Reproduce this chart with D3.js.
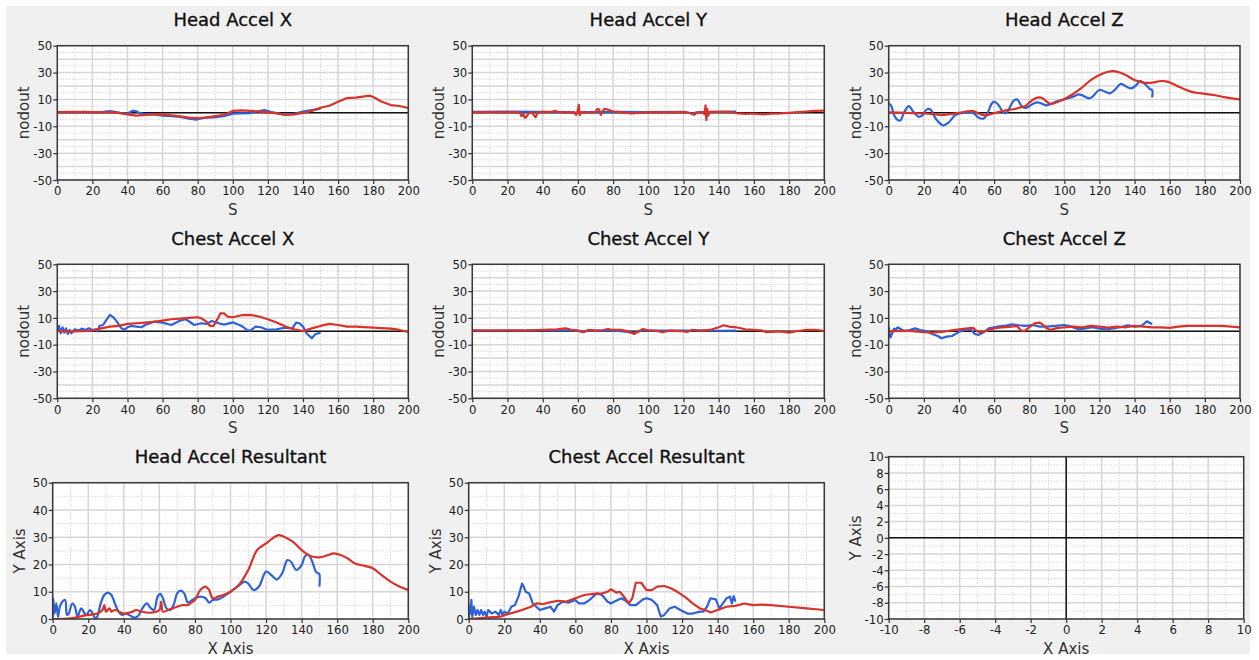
<!DOCTYPE html>
<html>
<head>
<meta charset="utf-8">
<script src="https://cdn.jsdelivr.net/npm/d3@7"></script>
<style>
  html, body { margin: 0; padding: 0; background: #ffffff; }
  svg { display: block; }
  .tick text { font-family: "DejaVu Sans Condensed", "DejaVu Sans", sans-serif; font-stretch: condensed; font-size: 13px; fill: #222; }
  .title { font-family: "DejaVu Sans", sans-serif; font-size: 18px; fill: #111; stroke: #111; stroke-width: 0.35px; }
  .axlabel { font-family: "DejaVu Sans", sans-serif; font-size: 15px; fill: #333; }
</style>
</head>
<body>
<svg id="chart" width="1259" height="660"></svg>
<script>
// ---- Chart data ----------------------------------------------------------
const titles = ["Head Accel X", "Head Accel Y", "Head Accel Z",
                "Chest Accel X", "Chest Accel Y", "Chest Accel Z",
                "Head Accel Resultant", "Chest Accel Resultant", ""];

const timeTicks = [0, 20, 40, 60, 80, 100, 120, 140, 160, 180, 200];
const signedTicks = [50, 30, 10, -10, -30, -50];
const resultantTicks = [0, 10, 20, 30, 40, 50];
const unitTicks = [-10, -8, -6, -4, -2, 0, 2, 4, 6, 8, 10];

// [time, value] pairs; blue = test, red = simulation
const headXBlue = [[0,0.5],[5,0.6],[10,0.3],[15,0.8],[20,0.4],[25,0.6],[30,1.4],[33,0.8],[36,-0.2],[40,-0.4],[43,1.6],[45,1.2],[47,-0.2],[50,-1],[55,-1.2],[60,-2],[65,-2.5],[70,-3],[75,-4.4],[79,-5],[82,-4.2],[85,-3.6],[90,-3.3],[95,-2.4],[100,-0.6],[105,-0.4],[110,-0.2],[115,1.4],[118,2],[122,0.6],[125,-0.2],[130,-1.4],[135,-0.8],[140,0.9],[145,2],[150,3.1]];
const headXRed = [[0,0.6],[10,0.7],[20,0.5],[30,0.4],[35,0],[40,-1.1],[45,-2.1],[50,-1.6],[55,-1.2],[60,-1.1],[65,-1.8],[70,-2.6],[75,-3.6],[80,-4],[85,-3.4],[90,-2.4],[95,-1.4],[100,1.4],[105,1.9],[110,1.4],[115,0.9],[120,0.4],[125,-0.4],[130,-1.6],[135,-1.2],[140,0],[145,1.4],[150,3.8],[155,5.3],[160,8.3],[165,11],[170,11.3],[175,12.3],[178,12.8],[180,11.8],[185,8.3],[190,5.8],[195,5.1],[200,3.6]];

const headYBlue = [[0,0.8],[20,0.9],[40,0.7],[55,0.5],[58,-0.3],[62,0.6],[80,0.7],[100,0.6],[120,0.8],[125,-0.5],[128,0.5],[140,0.8],[150,0.9]];
const headYRed = [[0,0.4],[10,0.5],[20,0.6],[27,0.2],[28,-2.5],[29,-1],[30,-3.8],[31,-2.5],[32,-0.5],[34,0.5],[35,-2],[36,-3.2],[37,0.2],[40,0.8],[45,0.6],[47,1.5],[49,0.5],[55,0.3],[58,0.5],[59,-1.5],[60,2],[60.5,6],[61,-1.8],[62,0.5],[65,0.4],[70,0.6],[71,3],[72,2.5],[73,-1.5],[74,1],[75,3],[77,2.5],[80,1],[85,0.5],[90,-0.5],[95,0],[100,0.5],[110,0.3],[120,0.5],[124,-0.2],[126,-1.5],[128,0.3],[131,0.5],[132,-1],[132.5,5.5],[133,-5.5],[133.5,3],[134,-2],[135,0.8],[140,0.8],[145,0.8],[148,0.5],[150,-0.3],[155,-0.8],[160,-0.5],[165,-1.2],[170,-0.6],[175,-0.4],[180,0],[185,0.5],[190,1],[195,1.4],[200,1.6]];

const headZBlue = [[0,7],[1.5,5],[3,-1.6],[5,-5.3],[6.5,-5.8],[9,0.9],[11.5,5],[14,0.9],[17,-2.9],[19,-2],[22,2.9],[24,2.2],[27,-4.8],[31,-9.3],[34,-7.3],[38,-1.6],[42,0],[48,0],[51,-3.4],[54,-4.3],[56,-1.1],[58.5,6.6],[60,8.3],[62,6.6],[65,0.9],[66.5,-0.4],[68,1.6],[71,8.8],[73,10],[76,4.6],[78,3.6],[82,6.6],[85,7.8],[90,5.6],[95,8.3],[100,10],[106,12.5],[108,13.8],[110,13.2],[114,10.8],[116,12],[120,17],[124,15.3],[126,14.5],[129,17.5],[132,21.5],[136,19],[138,18.2],[141,20.7],[143,23.7],[145,22.5],[147,20],[149,17.5],[150,17],[150,11.5]];
const headZRed = [[0,0.4],[10,0],[20,-0.5],[25,-0.9],[30,-1.6],[35,-1],[40,0],[45,1.1],[48,1.4],[52,-0.9],[55,-1.9],[58,-0.9],[62,0.4],[65,1.4],[68,2.1],[72,2.9],[75,4.1],[78,5.1],[80,7.6],[83,10.5],[86,11.5],[88,10.5],[90,8.3],[92,6.6],[95,7.6],[100,10.3],[105,14],[110,18.7],[115,24.4],[120,28.2],[125,30.6],[128,31.1],[132,29.9],[136,27.4],[140,24.4],[145,22.5],[150,22.5],[155,23.7],[158,23.4],[162,21.5],[166,19],[172,15.8],[178,14.5],[185,13.3],[192,11.5],[200,10]];

const chestXBlue = [[0,0.5],[1,4],[2,-1.5],[3,3],[4,-1],[5,2.2],[6,-2],[7,1],[8,-1.5],[10,1.5],[12,0.5],[14,2],[16,1],[18,2.2],[20,1],[22,1.5],[23,0],[24,4],[26,4.7],[28,8.5],[30,12.2],[32,10.4],[34,7.2],[36,3],[38,1],[40,3],[42,4],[45,3.5],[48,3],[50,4.7],[55,7.2],[60,6.5],[65,4.7],[70,8],[73,9],[75,7.5],[78,4.7],[82,6],[85,5.5],[88,7.7],[92,6],[95,5],[100,6.7],[105,4],[108,1],[110,0.5],[113,3.5],[116,3],[120,1],[125,1.5],[130,2.7],[134,2.2],[136,6.5],[138,6],[140,3.5],[142,-1.5],[145,-5.2],[147,-2.2],[150,-1]];
const chestXRed = [[0,0.2],[10,0],[20,0.5],[25,2.2],[30,3.5],[35,4],[40,5.5],[45,6],[50,6.5],[55,7],[60,8],[65,9],[70,9.5],[75,10],[80,10.5],[82,9.7],[85,7.2],[87,4],[89,4],[91,8.5],[93,13.4],[95,13.4],[97,11],[100,10.5],[105,12],[110,12.2],[115,11],[120,9],[125,6.5],[130,3.5],[135,1.5],[140,0.2],[145,2.2],[150,4],[155,5.5],[160,4.7],[165,3.5],[170,3.5],[180,2.7],[190,2],[195,1],[200,-0.5]];

const chestYBlue = [[0,0.6],[20,0.6],[40,0.7],[60,0.5],[63,-0.3],[66,0.5],[80,0.6],[88,-0.5],[92,-1.2],[96,0.5],[110,0.6],[130,0.6],[140,0.4],[150,0.5]];
const chestYRed = [[0,0.7],[10,0.6],[20,0.7],[30,0.5],[40,1],[48,1.5],[53,2.2],[57,1],[60,0.5],[63,-0.7],[66,1],[70,0.5],[74,0.8],[77,1.7],[80,1],[85,1],[88,0.2],[92,-2],[95,0.2],[97,1.7],[100,0.8],[105,0.2],[108,-0.7],[112,0.5],[118,0.2],[122,-0.5],[125,1],[130,0.5],[135,1],[140,3],[143,4.5],[146,3.5],[150,3],[155,1.5],[160,1],[165,0.5],[167,-0.7],[175,0],[180,-1],[185,0.2],[190,1],[195,1],[200,0.2]];

const chestZBlue = [[0,3.5],[0.5,-2.7],[1,-4.5],[2,-1.5],[3,2],[4,1],[5,3],[7,1.5],[9,0],[12,1],[15,2.2],[18,1],[20,0.5],[22,-0.2],[25,-2.2],[28,-3.5],[30,-5.2],[33,-4],[36,-3.5],[40,-0.5],[44,1.5],[47,1],[49,-2],[51,-2.7],[53,-1.5],[57,2.2],[62,3.5],[67,4.2],[70,5.2],[74,4.5],[78,4],[82,4.7],[86,3.5],[90,3.5],[95,4],[100,4.7],[104,3.5],[108,1.5],[112,2.2],[116,3],[120,2],[124,1.5],[128,2.2],[132,3],[136,4.5],[140,3.5],[144,4],[147,7.5],[149,6],[150,5.5]];
const chestZRed = [[0,0],[10,0.5],[20,-0.7],[25,-1],[30,-0.5],[35,0.5],[40,1.5],[45,2.2],[48,2.5],[50,0.5],[52,-1],[55,0],[60,2.2],[65,3],[70,3.5],[73,4],[75,1],[77,0],[80,3],[83,6],[86,6.5],[88,4.7],[90,2.2],[92,1],[95,2.2],[100,3],[105,3.5],[110,3],[115,4],[120,3.5],[125,2.7],[130,3.5],[135,3],[140,4],[145,3.5],[150,3],[155,3],[160,2.5],[165,3.5],[170,4],[180,4],[190,4],[200,3]];

const headResBlue = [[0,0],[0.3,7.6],[1,2],[2,5.7],[3,0.8],[4,4.5],[5.5,6.4],[7,7],[8,1.5],[9,2],[11,5.7],[12.5,4.5],[14,0.9],[16,3.9],[18,2],[19,1.5],[21,3.3],[22.5,2],[24,0.2],[25,0.8],[27,5.7],[29,8.8],[31,9.7],[33,8.8],[35,5.7],[37,2.7],[39,1.5],[41,2],[44,1.1],[46,0.5],[48,1.1],[51,4.5],[53,5.7],[55,4.1],[57,3.3],[59,8.2],[60.5,9.2],[62,7.6],[64,3.9],[66,3.3],[68,5.1],[70,9.4],[72,10.4],[74,9.4],[76,6.1],[78,6.7],[80,7.6],[83,8.2],[86,7.6],[88,6],[90,7],[93,7.2],[96,8.2],[100,10],[104,11.9],[108,13.7],[110,13],[113,10.6],[116,11.9],[120,17.4],[123,16.1],[126,14.5],[129,16.7],[132,21.6],[134,21],[137,18],[140,19.8],[142,23.1],[144,23.5],[146,21],[148,17.4],[149.5,16.7],[150,16.5],[150,11.9]];
const headResRed = [[0,0],[10,0.2],[15,0.9],[20,1.5],[25,2],[28,3.3],[29,5.1],[30,2.7],[32,3.9],[33,2.7],[35,3.3],[40,2],[45,2.7],[47,3.3],[50,2.7],[55,2.3],[60,3.3],[61,6.4],[62,2.7],[65,3.3],[70,4.5],[73,5.1],[76,5.1],[78,6],[80,7],[83,10.6],[86,11.9],[88,10.6],[90,7.6],[93,8.2],[96,8.8],[100,10],[105,12.8],[110,18],[115,25.3],[120,27.7],[125,30.2],[127,30.8],[130,30.2],[135,28.4],[140,25.3],[145,23.1],[150,22.6],[155,23.5],[158,24.1],[162,23.5],[166,22.2],[170,20.4],[176,19.4],[180,18.6],[185,16.1],[190,13.7],[195,11.9],[200,10.6]];

const chestResBlue = [[0,0],[0.5,5],[1,2],[1.5,7],[2,0.8],[3,4.5],[4,1.5],[5,3.3],[6,1.5],[7,3.3],[8,1.5],[9,2.7],[10,0.8],[11,3.3],[13,2],[15,2.7],[17,1.5],[18,3.3],[19,1.5],[20,2.7],[22,2],[24,4.5],[26,5.1],[28,8.2],[30,13],[31,11.8],[32,10],[34,9.4],[36,5.7],[38,4.5],[40,3.3],[43,3.9],[46,4.5],[48,2.7],[50,5.1],[53,6.4],[56,6],[60,7],[62,5.7],[65,5.7],[68,7],[72,9.4],[75,8.8],[78,6.4],[80,5.7],[82,6.4],[86,7.6],[88,6.8],[91,5.1],[94,5.1],[98,7.2],[100,7.6],[103,7],[106,5.1],[108,0.9],[110,1.5],[113,3.9],[116,4.5],[119,3.3],[123,2],[126,2],[130,2.7],[132,2.7],[134,4.5],[136,7.6],[139,7.2],[141,3.9],[143,5.7],[145,7.6],[147,8.2],[148,5.7],[149,8.4],[150,6.4]];
const chestResRed = [[0,0],[10,0.5],[18,0.9],[22,1.8],[27,2.7],[30,3.3],[35,4.5],[38,5.7],[42,5.5],[45,6],[50,6.7],[55,6.4],[60,7.6],[65,8.8],[70,9.2],[75,9.4],[78,10],[80,10.9],[83,9.7],[85,10],[88,7.6],[90,5.7],[92,7.6],[94,13.3],[97,13.3],[100,10.6],[103,10.6],[106,11.9],[110,12.1],[114,11.2],[118,9.7],[122,7.9],[126,5.7],[130,3.9],[133,3.3],[136,2.4],[140,3.3],[145,4.5],[150,4.8],[155,5.7],[160,5.1],[165,5.3],[170,5.1],[180,4.5],[190,3.9],[200,3.3]];

// ---- Drawing -------------------------------------------------------------
const BLUE = "#2f62d8";
const RED = "#d9322a";

const svg = d3.select("#chart");
svg.append("rect").attr("x", 6).attr("y", 6).attr("width", 1244).attr("height", 648).attr("fill", "#f0f0f0");

const signed = { domain: [-50, 50], labels: signedTicks, major: d3.range(-50, 51, 10), minor: d3.range(-45, 50, 10), zero: true };
const resultant = { domain: [0, 50], labels: resultantTicks, major: d3.range(0, 51, 10), minor: d3.range(5, 50, 10), zero: false };
const unit = { domain: [-10, 10], labels: unitTicks, major: unitTicks, minor: d3.range(-9, 10, 2), zero: true };
const timeAxis = { domain: [0, 200], labels: timeTicks, major: timeTicks, minor: d3.range(10, 200, 20) };
const unitX = { domain: [-10, 10], labels: unitTicks, major: unitTicks, minor: d3.range(-9, 10, 2) };

const panels = [
  { box: [57.3, 45.7, 408.3, 180], y: signed, x: timeAxis, yLabel: "nodout", xLabel: "S", series: [headXBlue, headXRed], smooth: false },
  { box: [472.3, 45.7, 824.3, 180], y: signed, x: timeAxis, yLabel: "nodout", xLabel: "S", series: [headYBlue, headYRed], smooth: false },
  { box: [888.7, 45.7, 1240, 180], y: signed, x: timeAxis, yLabel: "nodout", xLabel: "S", series: [headZBlue, headZRed], smooth: true },
  { box: [57.3, 264.3, 408.3, 398.3], y: signed, x: timeAxis, yLabel: "nodout", xLabel: "S", series: [chestXBlue, chestXRed], smooth: false },
  { box: [472.3, 264.3, 824.3, 398.3], y: signed, x: timeAxis, yLabel: "nodout", xLabel: "S", series: [chestYBlue, chestYRed], smooth: false },
  { box: [888.7, 264.3, 1240, 398.3], y: signed, x: timeAxis, yLabel: "nodout", xLabel: "S", series: [chestZBlue, chestZRed], smooth: false },
  { box: [52.7, 482.7, 408.3, 619], y: resultant, x: timeAxis, yLabel: "Y Axis", xLabel: "X Axis", series: [headResBlue, headResRed], smooth: true },
  { box: [468.7, 482.7, 824.3, 619], y: resultant, x: timeAxis, yLabel: "Y Axis", xLabel: "X Axis", series: [chestResBlue, chestResRed], smooth: false },
  { box: [888.7, 456.7, 1243.7, 619], y: unit, x: unitX, yLabel: "Y Axis", xLabel: "X Axis", series: [], smooth: false, crossZero: true }
];

// plain hyphen for negatives
const fmt = d => String(d);

panels.forEach((p, i) => {
  const [l, t, r, b] = p.box;
  const x = d3.scaleLinear().domain(p.x.domain).range([l, r]);
  const y = d3.scaleLinear().domain(p.y.domain).range([b, t]);
  const g = svg.append("g");

  g.append("rect").attr("x", l).attr("y", t).attr("width", r - l).attr("height", b - t).attr("fill", "#ffffff");

  // grid: solid majors, dotted minors
  const grid = g.append("g");
  grid.selectAll(".vmin").data(p.x.minor).join("line")
    .attr("x1", d => x(d)).attr("x2", d => x(d)).attr("y1", t).attr("y2", b)
    .attr("stroke", "#c4c4c4").attr("stroke-width", 1).attr("stroke-dasharray", "1,2");
  grid.selectAll(".hmin").data(p.y.minor).join("line")
    .attr("x1", l).attr("x2", r).attr("y1", d => y(d)).attr("y2", d => y(d))
    .attr("stroke", "#c4c4c4").attr("stroke-width", 1).attr("stroke-dasharray", "1,2");
  grid.selectAll(".vmaj").data(p.x.major).join("line")
    .attr("x1", d => x(d)).attr("x2", d => x(d)).attr("y1", t).attr("y2", b)
    .attr("stroke", "#d6d6d6").attr("stroke-width", 1.5);
  grid.selectAll(".hmaj").data(p.y.major).join("line")
    .attr("x1", l).attr("x2", r).attr("y1", d => y(d)).attr("y2", d => y(d))
    .attr("stroke", "#d6d6d6").attr("stroke-width", 1.5);

  if (p.y.zero) {
    g.append("line").attr("x1", l).attr("x2", r).attr("y1", y(0)).attr("y2", y(0))
      .attr("stroke", "#111").attr("stroke-width", 1.5);
  }
  if (p.crossZero) {
    g.append("line").attr("x1", x(0)).attr("x2", x(0)).attr("y1", t).attr("y2", b)
      .attr("stroke", "#111").attr("stroke-width", 1.5);
  }

  // traces
  const line = d3.line().x(d => x(d[0])).y(d => y(d[1]))
    .curve(p.smooth ? d3.curveCatmullRom.alpha(0.5) : d3.curveLinear);
  const clipId = "clip" + i;
  g.append("clipPath").attr("id", clipId).append("rect")
    .attr("x", l).attr("y", t).attr("width", r - l).attr("height", b - t);
  p.series.forEach((s, k) => {
    g.append("path").datum(s).attr("d", line)
      .attr("clip-path", `url(#${clipId})`)
      .attr("fill", "none").attr("stroke", k === 0 ? BLUE : RED)
      .attr("stroke-width", 2.2).attr("stroke-linejoin", "round");
  });

  // frame
  g.append("rect").attr("x", l).attr("y", t).attr("width", r - l).attr("height", b - t)
    .attr("fill", "none").attr("stroke", "#3a3a3a").attr("stroke-width", 1.5);

  // axes
  const ax = g.append("g").attr("transform", `translate(0,${b})`)
    .call(d3.axisBottom(x).tickValues(p.x.labels).tickSize(4).tickPadding(2).tickFormat(fmt));
  const ay = g.append("g").attr("transform", `translate(${l},0)`)
    .call(d3.axisLeft(y).tickValues(p.y.labels).tickSize(4).tickPadding(1).tickFormat(fmt));
  [ax, ay].forEach(a => {
    a.select(".domain").remove();
    a.selectAll(".tick line").attr("stroke", "#333").attr("stroke-width", 1.2);
  });

  // titles and axis names
  const cx = (l + r) / 2;
  if (titles[i]) {
    g.append("text").attr("class", "title").attr("x", cx).attr("y", t - 19.5)
      .attr("text-anchor", "middle").text(titles[i]);
  }
  g.append("text").attr("class", "axlabel").attr("x", cx).attr("y", b + 35)
    .attr("text-anchor", "middle").text(p.xLabel);
  g.append("text").attr("class", "axlabel")
    .attr("transform", `translate(${l - 28},${(t + b) / 2}) rotate(-90)`)
    .attr("text-anchor", "middle").text(p.yLabel);
});
</script>
</body>
</html>
